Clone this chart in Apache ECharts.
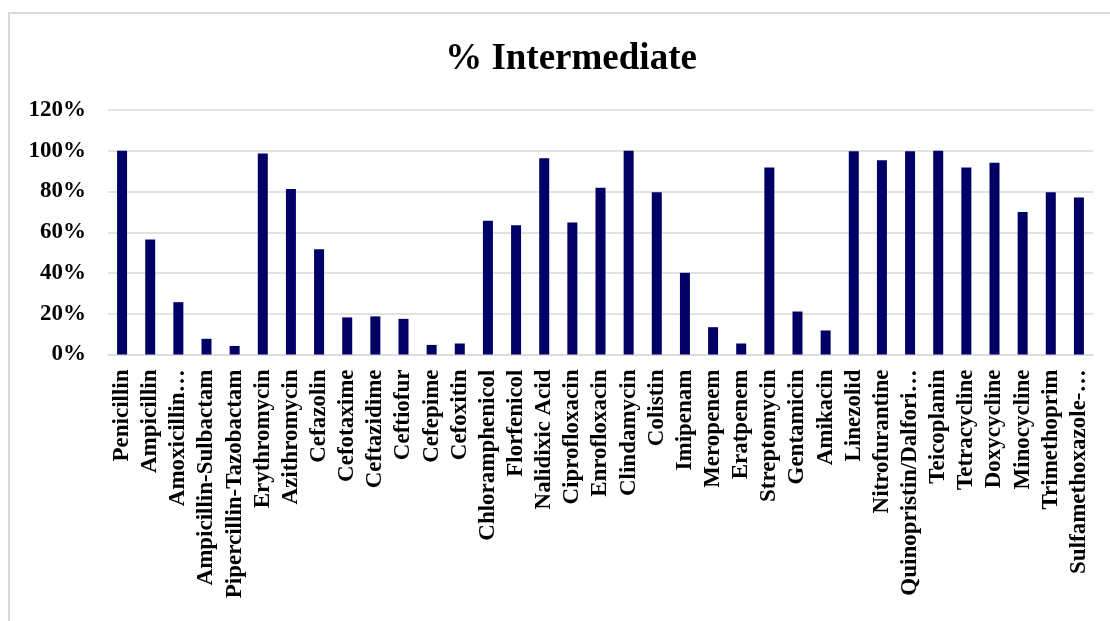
<!DOCTYPE html>
<html>
<head>
<meta charset="utf-8">
<script src="https://cdn.jsdelivr.net/npm/echarts@6/dist/echarts.min.js"></script>
<style>
  html, body { margin: 0; padding: 0; background: #fff; }
  #chart { width: 1110px; height: 621px; }
</style>
</head>
<body>
<div id="chart"></div>
<script>
  // antibiotics, as shown on the axis (Excel truncated some of them)
  var drugs = [
    'Penicillin', 'Ampicillin', 'Amoxicillin…', 'Ampicillin-Sulbactam', 'Pipercillin-Tazobactam',
    'Erythromycin', 'Azithromycin', 'Cefazolin', 'Cefotaxime', 'Ceftazidime', 'Ceftiofur',
    'Cefepime', 'Cefoxitin', 'Chloramphenicol', 'Florfenicol', 'Nalidixic Acid', 'Ciprofloxacin',
    'Enrofloxacin', 'Clindamycin', 'Colistin', 'Imipenam', 'Meropenem', 'Eratpenem',
    'Streptomycin', 'Gentamicin', 'Amikacin', 'Linezolid', 'Nitrofurantine',
    'Quinopristin/Dalfori…', 'Teicoplanin', 'Tetracycline', 'Doxycycline', 'Minocycline',
    'Trimethoprim', 'Sulfamethoxazole-…'
  ]
  // % intermediate
  var pctIntermediate = [
    100, 56.5, 25.7, 7.7, 4.2,
    98.7, 81.2, 51.6, 18.2, 18.7, 17.5,
    4.7, 5.4, 65.6, 63.4, 96.3, 64.8,
    81.8, 100, 79.6, 40.1, 13.4, 5.4,
    91.8, 21.1, 11.8, 99.7, 95.3,
    99.7, 100, 91.8, 94.1, 70.0,
    79.6, 77.1
  ]
  var yTicks = { min: 0, max: 120, step: 20 }

  var chart = echarts.init(document.getElementById('chart'))
  var serif = '"Liberation Serif", "Times New Roman", serif'
  var option = {
    animation: false,
    title: {
      text: '% Intermediate',
      left: 566,
      top: 36,
      textAlign: 'center',
      textStyle: { fontFamily: serif, fontWeight: 'bold', fontSize: 37, color: '#000' }
    },
    graphic: [{
      type: 'rect',
      shape: { x: 9, y: 13, width: 1300, height: 800 },
      style: { fill: 'none', stroke: '#d9d9d9', lineWidth: 2 },
      silent: true
    }],
    grid: { left: 108, right: 17, top: 110, bottom: 266.5 },
    xAxis: {
      type: 'category',
      data: drugs,
      axisLine: { lineStyle: { color: '#d9d9d9', width: 1.5 } },
      axisTick: { show: false },
      axisLabel: {
        interval: 0,
        rotate: 90,
        margin: 15,
        fontFamily: serif,
        fontWeight: 'bold',
        fontSize: 23,
        color: '#000'
      }
    },
    yAxis: {
      type: 'value',
      min: yTicks.min,
      max: yTicks.max,
      interval: yTicks.step,
      axisLine: { show: false },
      axisTick: { show: false },
      splitLine: { lineStyle: { color: '#d9d9d9', width: 1.5 } },
      axisLabel: {
        formatter: '{value}%',
        margin: 22,
        fontFamily: serif,
        fontWeight: 'bold',
        fontSize: 23,
        color: '#000'
      }
    },
    series: [{
      name: '% Intermediate',
      type: 'bar',
      barWidth: 10,
      data: pctIntermediate,
      itemStyle: { color: '#000066' }
    }]
  }
  chart.setOption(option)
</script>
</body>
</html>
